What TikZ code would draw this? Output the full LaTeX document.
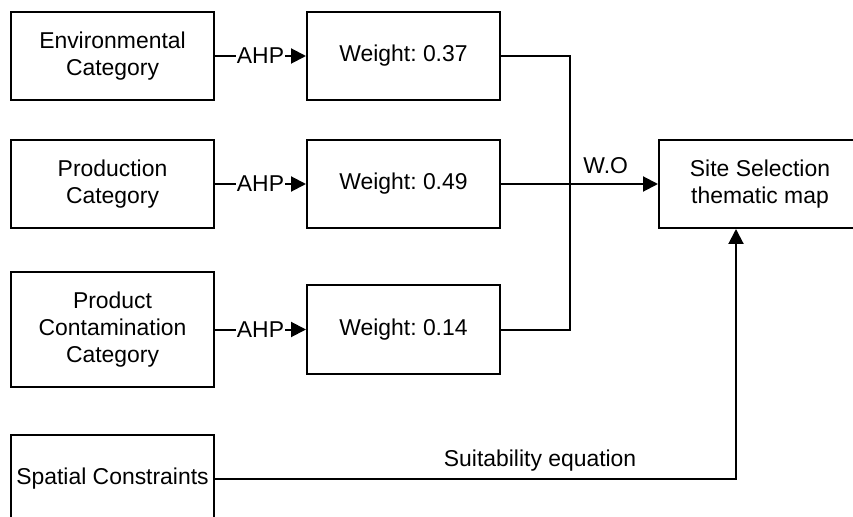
\documentclass[tikz,border=0pt]{standalone}
\usepackage{fontspec}
\setmainfont{Liberation Sans}
\usetikzlibrary{arrows.meta}
\frenchspacing
\begin{document}
\begin{tikzpicture}[x=1bp,y=-1bp,
  txt/.style={font=\fontsize{23}{27.5}\selectfont},
  box/.style={txt, draw, line width=2bp, rectangle, inner sep=0pt, align=center},
  catbox/.style={box, minimum width=203bp},
  wbox/.style={box, minimum width=193bp, minimum height=88bp},
  link/.style={line width=2bp},
  flow/.style={link, -{Triangle[length=15bp,width=15bp]}},
  tag/.style={txt, inner sep=1bp, fill=white},
  note/.style={txt, inner sep=1bp}]
\useasboundingbox (0,0) rectangle (853,517);
\fill[white] (0,0) rectangle (853,517);
\clip (0,0) rectangle (853,517);

% input categories
\node[catbox, minimum height=88bp]  (env)  at (112.5,56)    {Environmental\\Category};
\node[catbox, minimum height=88bp]  (prod) at (112.5,184)   {Production\\Category};
\node[catbox, minimum height=115bp] (cont) at (112.5,329.5) {Product\\Contamination\\Category};
\node[catbox, minimum height=88bp]  (sc)   at (112.5,479)   {Spatial Constraints};

% weights
\node[wbox] (w1) at (403.5,56)    {Weight: 0.37};
\node[wbox] (w2) at (403.5,184)   {Weight: 0.49};
\node[wbox] (w3) at (403.5,329.5) {Weight: 0.14};

% result
\node[box, minimum width=202bp, minimum height=88bp] (site) at (760,184)
  {Site Selection\\thematic map};

% AHP links
\draw[flow] (env)  -- node[tag] {AHP} (w1);
\draw[flow] (prod) -- node[tag] {AHP} (w2);
\draw[flow] (cont) -- node[tag] {AHP} (w3);

% weighted overlay
\coordinate (bus) at (570,184);
\draw[link] (w1.east) -| (bus) |- (w3.east);
\draw[flow] (w2) -- node[note, pos=0.667, above=8bp] {W.O} (site);

% constraints
\coordinate (siteIn) at ([xshift=-24bp]site.south);
\draw[flow] (sc.east) -| node[note, pos=0.312, above=6bp] {Suitability equation} (siteIn);
\end{tikzpicture}
\end{document}
